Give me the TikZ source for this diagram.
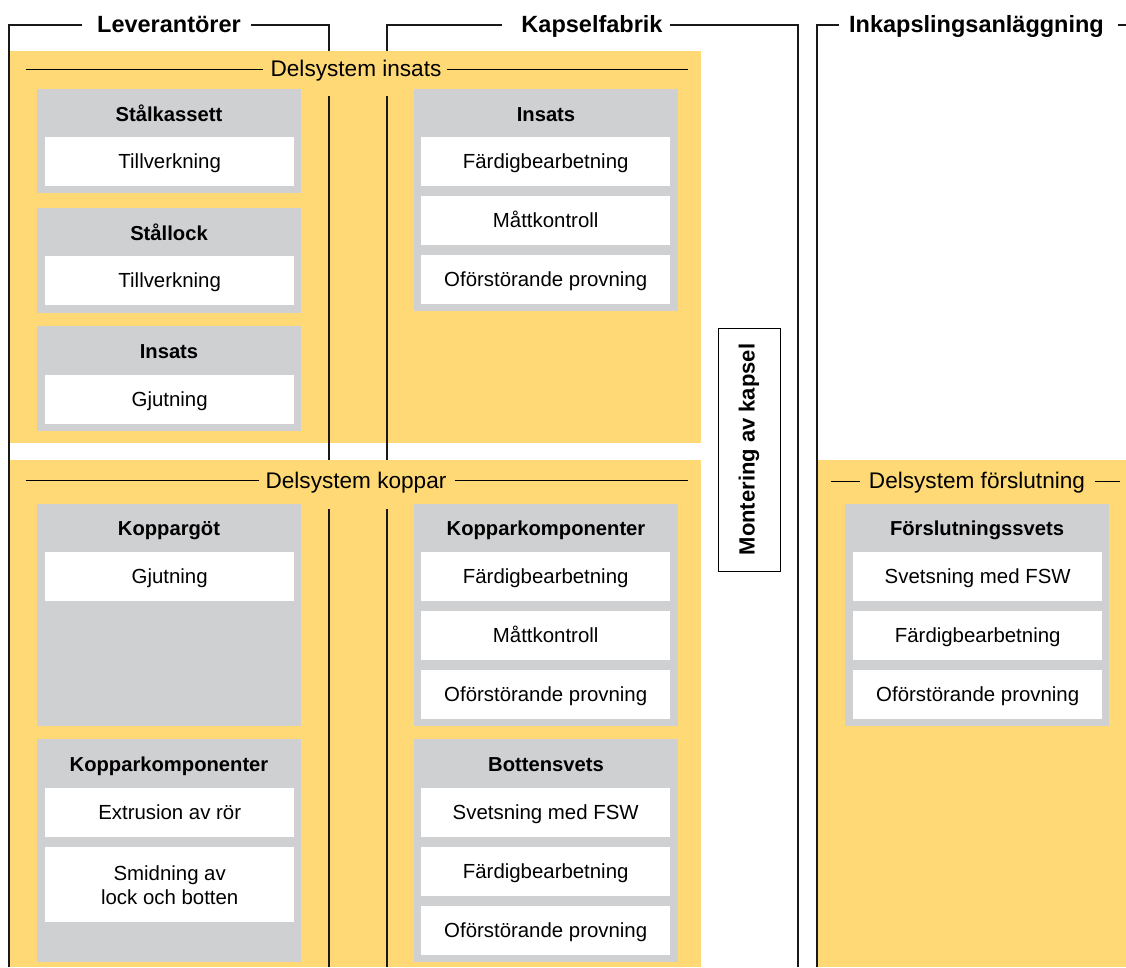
\documentclass[tikz,border=0pt]{standalone}
\usepackage{fontspec}
\setmainfont{Liberation Sans}
\definecolor{ylw}{RGB}{254,217,118}
\definecolor{gry}{RGB}{207,208,210}
\begin{document}
\begin{tikzpicture}[x=1pt,y=-1pt,
  frameline/.style={line width=1.2pt, black!90},
  hline/.style={line width=0.9pt, black},
  graybox/.style={fill=gry, draw=none, anchor=north west, minimum width=264pt, inner sep=0pt},
  whitebox/.style={fill=white, draw=none, anchor=north west, minimum width=249pt, minimum height=49pt, inner sep=0pt,
     font=\fontsize{20.4}{24}\selectfont, text height=14.5pt, text depth=0pt},
  titletext/.style={font=\bfseries\fontsize{20.2}{24}\selectfont, inner sep=0pt, anchor=base},
  headtext/.style={font=\bfseries\fontsize{23.5}{28}\selectfont, inner sep=0pt, anchor=base},
  subtext/.style={font=\fontsize{22.6}{27}\selectfont, inner sep=0pt, anchor=base},
  vbox/.style={draw=black, line width=1pt, fill=white, minimum width=62pt, minimum height=243pt, inner sep=0pt}
]
\useasboundingbox (0,0) rectangle (1126,967);

% yellow backgrounds
\fill[ylw] (9.5,51) rectangle (701,443);
\fill[ylw] (9.5,460) rectangle (701,967);
\fill[ylw] (817.5,460) rectangle (1126,967);

% frame headings
\node[headtext] (lev) at (169,32) {Leverantörer};
\node[headtext] (kap) at (592,32) {Kapselfabrik};
\node[headtext] (ink) at (976.5,32) {Inkapslingsanläggning};

% frame lines
\draw[frameline] (9,967) -- (9,25) -- (82,25);
\draw[frameline] (251,25) -- (329,25) -- (329,51);
\draw[frameline] (329,96) -- (329,460);
\draw[frameline] (329,509) -- (329,967);
\draw[frameline] (387,51) -- (387,25) -- (502,25);
\draw[frameline] (670,25) -- (798,25) -- (798,967);
\draw[frameline] (387,96) -- (387,460);
\draw[frameline] (387,509) -- (387,967);
\draw[frameline] (817,967) -- (817,25) -- (839,25);
\draw[frameline] (1118,25) -- (1126,25);

% subsystem headings
\node[subtext] (dins) at (356,76) {Delsystem insats};
\draw[hline] (25.5,69.5) -- (263,69.5);
\draw[hline] (447,69.5) -- (687.5,69.5);
\node[subtext] (dkop) at (356,488) {Delsystem koppar};
\draw[hline] (25.5,480.5) -- (258.5,480.5);
\draw[hline] (454.5,480.5) -- (687.5,480.5);
\node[subtext] (dfor) at (977,488) {Delsystem förslutning};
\draw[hline] (831,481) -- (860,481);
\draw[hline] (1095,481) -- (1120,481);

% Montering av kapsel
\node[vbox] (mont) at (749,449.5) {};
\node[rotate=90, font=\bfseries\fontsize{22}{26}\selectfont, inner sep=0pt] (montt) at (mont.center) {Montering av kapsel};

% ---- Leverantörer column ----
\node[graybox, minimum height=104pt] (g1) at (37,89) {};
\node[titletext] (t1) at (169,121.5) {Stålkassett};
\node[whitebox] (w1a) at (45,137) {Tillverkning};

\node[graybox, minimum height=105pt] (g2) at (37,208) {};
\node[titletext] (t2) at (169,240.5) {Stållock};
\node[whitebox] (w2a) at (45,256) {Tillverkning};

\node[graybox, minimum height=105pt] (g3) at (37,326) {};
\node[titletext] (t3) at (169,358.5) {Insats};
\node[whitebox] (w3a) at (45,375) {Gjutning};

\node[graybox, minimum height=222pt] (g4) at (37,503.5) {};
\node[titletext] (t4) at (169,535) {Koppargöt};
\node[whitebox] (w4a) at (45,552) {Gjutning};

\node[graybox, minimum height=223pt] (g5) at (37,739) {};
\node[titletext] (t5) at (169,771) {Kopparkomponenter};
\node[whitebox] (w5a) at (45,788) {Extrusion av rör};
\node[whitebox, minimum height=75pt, text height=, text depth=] (w5b) at (45,847) {};
\node[align=center, font=\fontsize{20.4}{24}\selectfont, inner sep=0pt] (w5bt) at (w5b.center) {Smidning av\\lock och botten};

% ---- Kapselfabrik column ----
\node[graybox, minimum height=222pt] (g6) at (414,89) {};
\node[titletext] (t6) at (546,121.5) {Insats};
\node[whitebox] (w6a) at (421,137) {Färdigbearbetning};
\node[whitebox] (w6b) at (421,196) {Måttkontroll};
\node[whitebox] (w6c) at (421,255) {Oförstörande provning};

\node[graybox, minimum height=222pt] (g7) at (414,503.5) {};
\node[titletext] (t7) at (546,535) {Kopparkomponenter};
\node[whitebox] (w7a) at (421,552) {Färdigbearbetning};
\node[whitebox] (w7b) at (421,611) {Måttkontroll};
\node[whitebox] (w7c) at (421,670) {Oförstörande provning};

\node[graybox, minimum height=223pt] (g8) at (414,739) {};
\node[titletext] (t8) at (546,771) {Bottensvets};
\node[whitebox] (w8a) at (421,788) {Svetsning med FSW};
\node[whitebox] (w8b) at (421,847) {Färdigbearbetning};
\node[whitebox] (w8c) at (421,906) {Oförstörande provning};

% ---- Inkapslingsanläggning column ----
\node[graybox, minimum height=222pt] (g9) at (845,503.5) {};
\node[titletext] (t9) at (977,535) {Förslutningssvets};
\node[whitebox] (w9a) at (853,552) {Svetsning med FSW};
\node[whitebox] (w9b) at (853,611) {Färdigbearbetning};
\node[whitebox] (w9c) at (853,670) {Oförstörande provning};
\end{tikzpicture}
\end{document}
